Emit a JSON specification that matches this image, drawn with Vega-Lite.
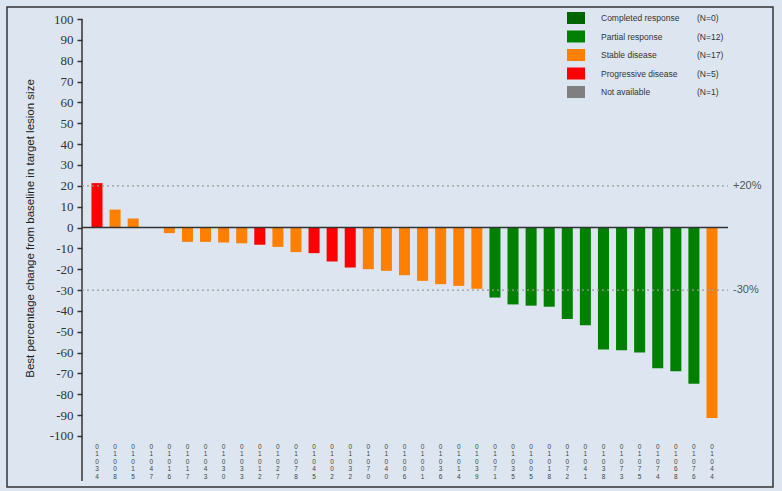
{
  "$schema": "https://vega.github.io/schema/vega-lite/v6.json",
  "width": 766,
  "height": 480,
  "autosize": "none",
  "padding": {"left": 7, "top": 7, "right": 9, "bottom": 4},
  "background": "#dde6f0",
  "config": {
    "view": {
      "stroke": "#333333",
      "strokeWidth": 1.5,
      "fill": {"gradient": "linear", "x1": 0, "y1": 0, "x2": 1, "y2": 1, "stops": [{"offset": 0, "color": "#dbe4ef"}, {"offset": 1, "color": "#e6edf6"}]}
    },
    "font": "Liberation Sans",
    "axisY": {
      "titleFont": "Liberation Sans",
      "titleFontSize": 11.5,
      "titleFontWeight": "normal",
      "titleColor": "#222222",
      "titleX": -52,
      "titleY": 221,
      "titleAngle": -90,
      "titleAlign": "center",
      "titleBaseline": "middle",
      "offset": -75,
      "domain": false,
      "grid": false,
      "labelOverlap": false,
      "labelBound": false,
      "labelFlush": false,
      "labelFont": "Liberation Serif",
      "labelFontSize": 13,
      "labelColor": "#333333",
      "labelPadding": 4,
      "tickSize": 5,
      "tickColor": "#333333",
      "tickWidth": 1.5
    }
  },
  "datasets": {
    "bars": [
      {"id": "01034", "pct": 21.3, "response": "Progressive disease"},
      {"id": "01008", "pct": 8.6, "response": "Stable disease"},
      {"id": "01015", "pct": 4.3, "response": "Stable disease"},
      {"id": "01047", "pct": 0, "response": "Not available"},
      {"id": "01016", "pct": -2.7, "response": "Stable disease"},
      {"id": "01017", "pct": -6.9, "response": "Stable disease"},
      {"id": "01043", "pct": -6.9, "response": "Stable disease"},
      {"id": "01030", "pct": -7.2, "response": "Stable disease"},
      {"id": "01033", "pct": -7.6, "response": "Stable disease"},
      {"id": "01012", "pct": -8.3, "response": "Progressive disease"},
      {"id": "01027", "pct": -9.3, "response": "Stable disease"},
      {"id": "01078", "pct": -11.8, "response": "Stable disease"},
      {"id": "01045", "pct": -12.3, "response": "Progressive disease"},
      {"id": "01002", "pct": -16.3, "response": "Progressive disease"},
      {"id": "01032", "pct": -19.2, "response": "Progressive disease"},
      {"id": "01070", "pct": -20.0, "response": "Stable disease"},
      {"id": "01040", "pct": -20.8, "response": "Stable disease"},
      {"id": "01006", "pct": -22.9, "response": "Stable disease"},
      {"id": "01001", "pct": -25.6, "response": "Stable disease"},
      {"id": "01036", "pct": -27.2, "response": "Stable disease"},
      {"id": "01014", "pct": -28.0, "response": "Stable disease"},
      {"id": "01039", "pct": -29.4, "response": "Stable disease"},
      {"id": "01071", "pct": -33.6, "response": "Partial response"},
      {"id": "01035", "pct": -36.9, "response": "Partial response"},
      {"id": "01005", "pct": -37.5, "response": "Partial response"},
      {"id": "01018", "pct": -38.0, "response": "Partial response"},
      {"id": "01072", "pct": -43.9, "response": "Partial response"},
      {"id": "01041", "pct": -46.9, "response": "Partial response"},
      {"id": "01038", "pct": -58.5, "response": "Partial response"},
      {"id": "01073", "pct": -58.9, "response": "Partial response"},
      {"id": "01075", "pct": -60.0, "response": "Partial response"},
      {"id": "01074", "pct": -67.5, "response": "Partial response"},
      {"id": "01068", "pct": -69.0, "response": "Partial response"},
      {"id": "01076", "pct": -75.0, "response": "Partial response"},
      {"id": "01044", "pct": -91.4, "response": "Stable disease"}
    ],
    "refs": [
      {"value": 20, "label": "+20%"},
      {"value": -30, "label": "-30%"}
    ],
    "counts": [
      {"n": "(N=0)"},
      {"n": "(N=12)"},
      {"n": "(N=17)"},
      {"n": "(N=5)"},
      {"n": "(N=1)"}
    ]
  },
  "resolve": {"scale": {"x": "independent"}},
  "layer": [
    {
      "data": {"name": "bars"},
      "mark": {"type": "bar"},
      "encoding": {
        "x": {
          "field": "id",
          "type": "nominal",
          "sort": null,
          "scale": {"range": [75, 720], "paddingInner": 0.39, "paddingOuter": 0.524},
          "axis": {
            "title": null,
            "domain": false,
            "ticks": false,
            "labelAngle": 0,
            "labelPadding": -44,
            "labelBaseline": "top",
            "labelLineHeight": 7.5,
            "labelFontSize": 6.5,
            "labelColor": "#444444",
            "labelOverlap": false,
            "labelBound": false,
            "labelFlush": false,
            "labelExpr": "split(datum.value, '')"
          }
        },
        "y": {
          "field": "pct",
          "type": "quantitative",
          "scale": {"domain": [-124.5, 105.8], "nice": false, "zero": false},
          "axis": {
            "title": "Best percentage change from baseline in target lesion size",
            "values": [100, 90, 80, 70, 60, 50, 40, 30, 20, 10, 0, -10, -20, -30, -40, -50, -60, -70, -80, -90, -100],
            "labelExpr": "'' + datum.value"
          }
        },
        "y2": {"datum": 0},
        "color": {
          "field": "response",
          "type": "nominal",
          "scale": {
            "domain": ["Completed response", "Partial response", "Stable disease", "Progressive disease", "Not available"],
            "range": ["#006400", "#008000", "#ff8000", "#ff0000", "#808080"]
          },
          "legend": {
            "title": null,
            "orient": "none",
            "legendX": 560,
            "legendY": 2,
            "padding": 0,
            "symbolType": "M-1,-0.667H1V0.667H-1Z",
            "symbolSize": 324,
            "symbolStrokeWidth": 0,
            "symbolOpacity": 1,
            "labelOffset": 16,
            "labelFontSize": 8.5,
            "labelColor": "#333333",
            "labelFont": "Liberation Sans",
            "rowPadding": 2.5
          }
        }
      }
    },
    {
      "data": {"name": "counts"},
      "mark": {"type": "point", "opacity": 0},
      "encoding": {
        "shape": {
          "field": "n",
          "type": "nominal",
          "scale": {
            "domain": ["(N=0)", "(N=12)", "(N=17)", "(N=5)", "(N=1)"],
            "range": ["M-1,-0.667H1V0.667H-1Z", "M-1,-0.667H1V0.667H-1Z", "M-1,-0.667H1V0.667H-1Z", "M-1,-0.667H1V0.667H-1Z", "M-1,-0.667H1V0.667H-1Z"]
          },
          "legend": {
            "title": null,
            "orient": "none",
            "legendX": 668,
            "legendY": 2,
            "padding": 0,
            "symbolSize": 324,
            "symbolOpacity": 0,
            "symbolStrokeWidth": 0,
            "labelOffset": 4,
            "labelFontSize": 8.5,
            "labelColor": "#333333",
            "labelFont": "Liberation Sans",
            "rowPadding": 2.5
          }
        }
      }
    },
    {
      "data": {"values": [{}]},
      "mark": {"type": "rule", "color": "#333333", "strokeWidth": 1.5},
      "encoding": {
        "x": {"datum": 0, "type": "quantitative", "scale": {"domain": [0, 1], "range": [75, 721]}, "axis": null},
        "y": {"datum": 100, "axis": {"title": "Best percentage change from baseline in target lesion size", "values": [100, 90, 80, 70, 60, 50, 40, 30, 20, 10, 0, -10, -20, -30, -40, -50, -60, -70, -80, -90, -100], "labelExpr": "'' + datum.value"}},
        "y2": {"datum": -121.6}
      }
    },
    {
      "data": {"values": [{}]},
      "mark": {"type": "rule", "color": "#333333", "strokeWidth": 1.5},
      "encoding": {
        "x": {"datum": 0, "type": "quantitative", "scale": {"domain": [0, 1], "range": [75, 721]}, "axis": null},
        "x2": {"datum": 1},
        "y": {"datum": 0, "axis": {"title": "Best percentage change from baseline in target lesion size", "values": [100, 90, 80, 70, 60, 50, 40, 30, 20, 10, 0, -10, -20, -30, -40, -50, -60, -70, -80, -90, -100], "labelExpr": "'' + datum.value"}}
      }
    },
    {
      "data": {"name": "refs"},
      "mark": {"type": "rule", "color": "#999999", "strokeWidth": 1.2, "strokeDash": [2, 3]},
      "encoding": {
        "x": {"datum": 0, "type": "quantitative", "scale": {"domain": [0, 1], "range": [75, 721]}, "axis": null},
        "x2": {"datum": 1},
        "y": {"field": "value", "type": "quantitative", "axis": {"title": "Best percentage change from baseline in target lesion size", "values": [100, 90, 80, 70, 60, 50, 40, 30, 20, 10, 0, -10, -20, -30, -40, -50, -60, -70, -80, -90, -100], "labelExpr": "'' + datum.value"}}
      }
    },
    {
      "data": {"name": "refs"},
      "mark": {"type": "text", "align": "left", "baseline": "middle", "dx": 5, "fontSize": 11, "color": "#555555", "font": "Liberation Sans"},
      "encoding": {
        "x": {"datum": 1, "type": "quantitative", "scale": {"domain": [0, 1], "range": [75, 721]}, "axis": null},
        "y": {"field": "value", "type": "quantitative", "axis": {"title": "Best percentage change from baseline in target lesion size", "values": [100, 90, 80, 70, 60, 50, 40, 30, 20, 10, 0, -10, -20, -30, -40, -50, -60, -70, -80, -90, -100], "labelExpr": "'' + datum.value"}},
        "text": {"field": "label"}
      }
    }
  ]
}
